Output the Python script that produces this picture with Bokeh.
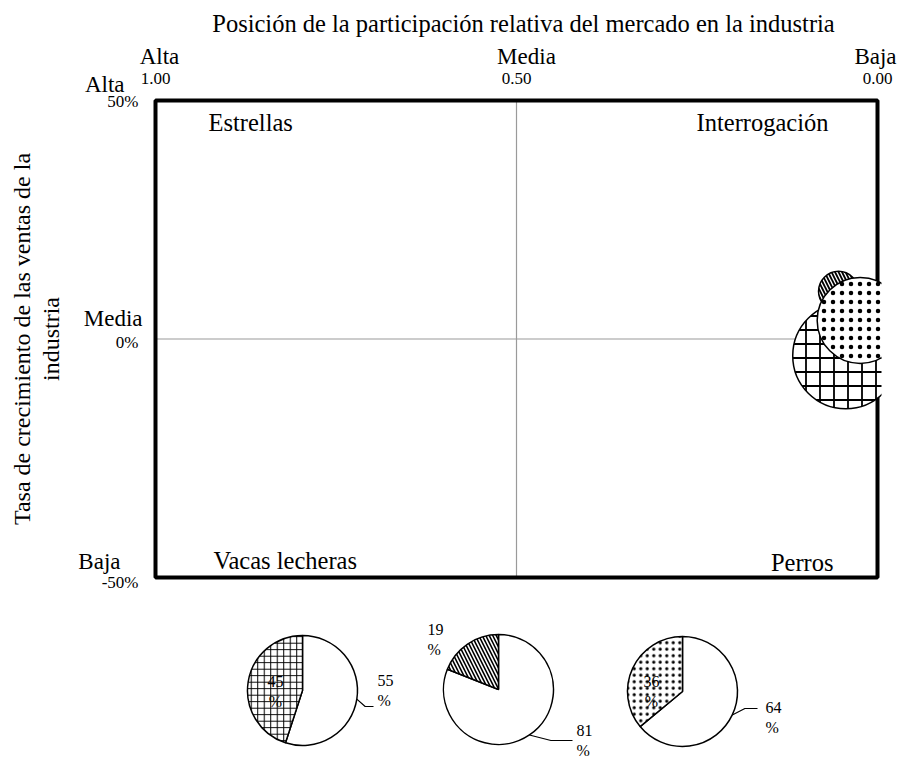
import math
from bokeh.plotting import figure
from bokeh.models import Range1d, Label
from bokeh.layouts import column
from bokeh.embed import file_html
from bokeh.resources import INLINE

FONT = "Liberation Serif"

# ---------------- data ----------------
x_title = "Posición de la participación relativa del mercado en la industria"
y_title = "Tasa de crecimiento de las ventas de la\nindustria"
x_ticks = [1.0, 0.5, 0.0]
x_tick_words = ["Alta", "Media", "Baja"]
x_tick_nums = ["1.00", "0.50", "0.00"]
y_ticks = [50, 0, -50]
y_tick_words = ["Alta", "Media", "Baja"]
y_tick_nums = ["50%", "0%", "-50%"]
quad_names = ["Estrellas", "Interrogación", "Vacas lecheras", "Perros"]

bubble_share = [0.044, 0.054, 0.024]
bubble_growth = [-3.5, 10.0, 3.9]
bubble_size = [53, 20, 43]          # bubble radius (px)

pie_part = [45, 19, 36]             # patterned slice (%)
pie_rest = [55, 81, 64]             # white slice (%)

# ---------------- styles / layout ----------------
patterns = ["+", "\\", "."]
bub_scale = [14, 7, 9]
bub_weight = [1.8, 1.8, 0.4]
pie_scale = [6.5, 7, 6.5]
pie_weight = [1.0, 1.6, 0.35]

W, H1, H2 = 906, 600, 162
BOX_L, BOX_R, BOX_T, BOX_B = 155, 877, 100, 577   # box position in px
sx_ = (BOX_R - BOX_L) / (x_ticks[0] - x_ticks[-1])   # px per unit (x)
sy_ = (BOX_B - BOX_T) / (y_ticks[0] - y_ticks[-1])   # px per unit (y)

p = figure(width=W, height=H1, output_backend="svg", toolbar_location=None,
           x_range=Range1d(x_ticks[0] + BOX_L / sx_, x_ticks[-1] - (W - BOX_R) / sx_),
           y_range=Range1d(y_ticks[-1] - (H1 - BOX_B) / sy_, y_ticks[0] + BOX_T / sy_),
           min_border=0, x_axis_location=None, y_axis_location=None)
p.grid.visible = False
p.outline_line_color = None
p.background_fill_color = "white"
p.border_fill_color = "white"

xl, xm, xr = x_ticks
yt, ym, yb = y_ticks

# mid lines
p.segment(x0=[xl, xm], y0=[ym, yb], x1=[xr, xm], y1=[ym, yt],
          line_color="#9a9a9a", line_width=1.2)
# box
p.quad(left=[xl], right=[xr], top=[yt], bottom=[yb], fill_color=None,
       line_color="black", line_width=4)

# bubbles
for i in range(len(bubble_share)):
    p.circle(x=[bubble_share[i]], y=[bubble_growth[i]], radius=bubble_size[i],
             radius_units="screen", fill_color="white", line_color="black",
             line_width=1.5, hatch_pattern=patterns[i], hatch_color="black",
             hatch_scale=bub_scale[i], hatch_weight=bub_weight[i])
# clip bubbles at the right edge of the box
p.quad(left=[xr - 4 / sx_], right=[xr - 60 / sx_], top=[yt - 3 / sy_], bottom=[yb + 3 / sy_],
       fill_color="white", line_color=None)


def lab(fig, x, y, text, dx=0, dy=0, size=24, align="center", angle=0, lh=1.2):
    fig.add_layout(Label(x=x, y=y, x_offset=dx, y_offset=dy, text=text,
                         text_font=FONT, text_font_size=f"{size}px",
                         text_align=align, text_baseline="middle",
                         text_color="black", angle=angle, text_line_height=lh))


# title
lab(p, xm, yt, x_title, dx=7, dy=77, size=24.5)
# top tick labels
word_dx = [4, 10, -2]
for i, t in enumerate(x_ticks):
    lab(p, t, yt, x_tick_words[i], dx=word_dx[i], dy=44, size=23)
    lab(p, t, yt, x_tick_nums[i], dx=0, dy=22, size=17)
# left tick labels
yw_dx = [-31, -13, -35]
yw_dy = [16, 21, 16]
yn_dy = [-1, -3, -5]
for i, t in enumerate(y_ticks):
    lab(p, xl, t, y_tick_words[i], dx=yw_dx[i], dy=yw_dy[i], size=23, align="right")
    lab(p, xl, t, y_tick_nums[i], dx=-17, dy=yn_dy[i], size=17, align="right")
# y title
lab(p, xl, ym, y_title, dx=-119, dy=0, size=24, angle=math.pi / 2, lh=1.12)
# quadrant labels
quad_anchor = [(xl, yt, 53, -22, "left"), (xr, yt, -49, -22, "right"),
               (xl, yb, 58, 17, "left"), (xr, yb, -44, 15, "right")]
for name, (ax, ay, dx, dy, al) in zip(quad_names, quad_anchor):
    lab(p, ax, ay, name, dx=dx, dy=dy, size=24.5, align=al)

# ---------------- pies ----------------
q = figure(width=W, height=H2, output_backend="svg", toolbar_location=None,
           x_range=Range1d(0, W), y_range=Range1d(0, H2),
           min_border=0, x_axis_location=None, y_axis_location=None)
q.grid.visible = False
q.outline_line_color = None

pie_cx = [302, 498, 682]
pie_cy = [72, 73, 71]
R = 55
part_lab = [(-27, -1, "center"), (-71, 50, "left"), (-31, 0, "center")]
rest_lab = [(75, 0), (78, -51), (83, -26)]
leader_end = [(71, -16), (74, -51), (75, -17)]

for i in range(3):
    a0 = math.pi / 2
    a1 = a0 + 2 * math.pi * pie_part[i] / 100
    a2 = a0 + 2 * math.pi * (pie_part[i] + pie_rest[i]) / 100
    cx, cy = pie_cx[i], pie_cy[i]
    q.wedge(x=[cx], y=[cy], radius=R, start_angle=a1, end_angle=a2,
            fill_color="white", line_color="black", line_width=1.5)
    q.wedge(x=[cx], y=[cy], radius=R, start_angle=a0, end_angle=a1,
            fill_color="white", line_color="black", line_width=1.5,
            hatch_pattern=patterns[i], hatch_color="black",
            hatch_scale=pie_scale[i], hatch_weight=pie_weight[i])
    dx, dy, al = part_lab[i]
    q.text(x=[cx + dx], y=[cy + dy], text=[f"{pie_part[i]}\n%"],
           text_font={"value": FONT}, text_font_size="16px", text_align=al,
           text_baseline="middle", text_line_height=1.2)
    rdx, rdy = rest_lab[i]
    q.text(x=[cx + rdx], y=[cy + rdy], text=[f"{pie_rest[i]}\n%"],
           text_font={"value": FONT}, text_font_size="16px", text_align="left",
           text_baseline="middle", text_line_height=1.2)
    am = (a1 + a2) / 2
    sx, sy = cx + R * math.cos(am), cy + R * math.sin(am)
    ex, ey = cx + leader_end[i][0], cy + leader_end[i][1]
    q.line(x=[sx, (sx + ex) / 2, ex], y=[sy, ey, ey], line_color="black", line_width=1.2)

layout = column(p, q, spacing=0)
open("out.html", "w").write(file_html(layout, INLINE))
